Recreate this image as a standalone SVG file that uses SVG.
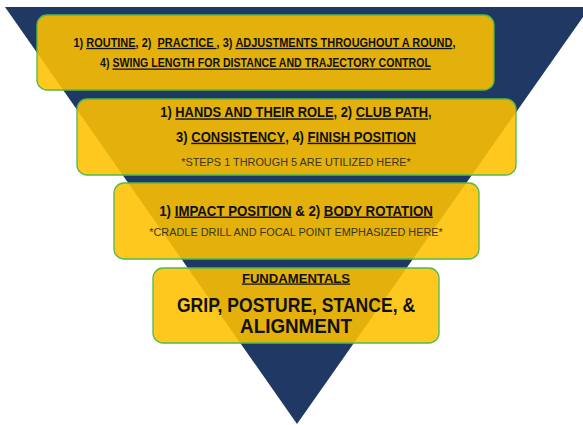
<svg xmlns="http://www.w3.org/2000/svg" width="583" height="425" viewBox="0 0 583 425">
<style>
.box{fill:#FFC000;fill-opacity:0.88;stroke:#4DBB4A;stroke-width:1.3}
.t{font-family:"Liberation Sans",Arial,sans-serif;font-weight:bold;fill:#111;text-anchor:middle}
.n{font-family:"Liberation Sans",Arial,sans-serif;fill:#3a3520;text-anchor:middle}
.u{text-decoration:underline}
</style>
<rect width="583" height="425" fill="#fff"/>
<polygon id="pyramid" points="5,7 590,7 297,424" fill="#1F3864"/>
<g id="connectors"/>
<g id="level1">
<rect class="box" x="37" y="15" width="457" height="75" rx="10"/>
<text class="t" transform="translate(264.5,46.8) scale(0.843,1)" font-size="13" xml:space="preserve">1) <tspan class="u">ROUTINE</tspan>, 2)  <tspan class="u">PRACTICE </tspan>, 3) <tspan class="u">ADJUSTMENTS THROUGHOUT A ROUND</tspan>,</text>
<text class="t" transform="translate(265.5,67.4) scale(0.815,1)" font-size="13">4) <tspan class="u">SWING LENGTH FOR DISTANCE AND TRAJECTORY CONTROL</tspan></text>
</g>
<g id="level2">
<rect class="box" x="77" y="99" width="439" height="76" rx="10"/>
<text class="t" transform="translate(296,117.3) scale(0.92,1)" font-size="14">1) <tspan class="u">HANDS AND THEIR ROLE</tspan>, 2) <tspan class="u">CLUB PATH</tspan>,</text>
<text class="t" transform="translate(296,141.7) scale(0.93,1)" font-size="14">3) <tspan class="u">CONSISTENCY</tspan>, 4) <tspan class="u">FINISH POSITION</tspan></text>
<text class="n" transform="translate(296,165.6) scale(0.99,1)" font-size="11">*STEPS 1 THROUGH 5 ARE UTILIZED HERE*</text>
</g>
<g id="level3">
<rect class="box" x="114" y="183" width="365" height="76" rx="10"/>
<text class="t" transform="translate(296,215.5) scale(0.915,1)" font-size="14.5">1) <tspan class="u">IMPACT POSITION</tspan> &amp; 2) <tspan class="u">BODY ROTATION</tspan></text>
<text class="n" transform="translate(296,235.7) scale(0.99,1)" font-size="11">*CRADLE DRILL AND FOCAL POINT EMPHASIZED HERE*</text>
</g>
<g id="level4">
<rect class="box" x="153" y="268" width="286" height="75" rx="10"/>
<text class="t u" transform="translate(296,282.5) scale(1.05,1)" font-size="12.5">FUNDAMENTALS</text>
<text class="t" transform="translate(296,311.7) scale(0.878,1)" font-size="20">GRIP, POSTURE, STANCE, &amp;</text>
<text class="t" transform="translate(296,333.3) scale(0.942,1)" font-size="20">ALIGNMENT</text>
</g>
</svg>
